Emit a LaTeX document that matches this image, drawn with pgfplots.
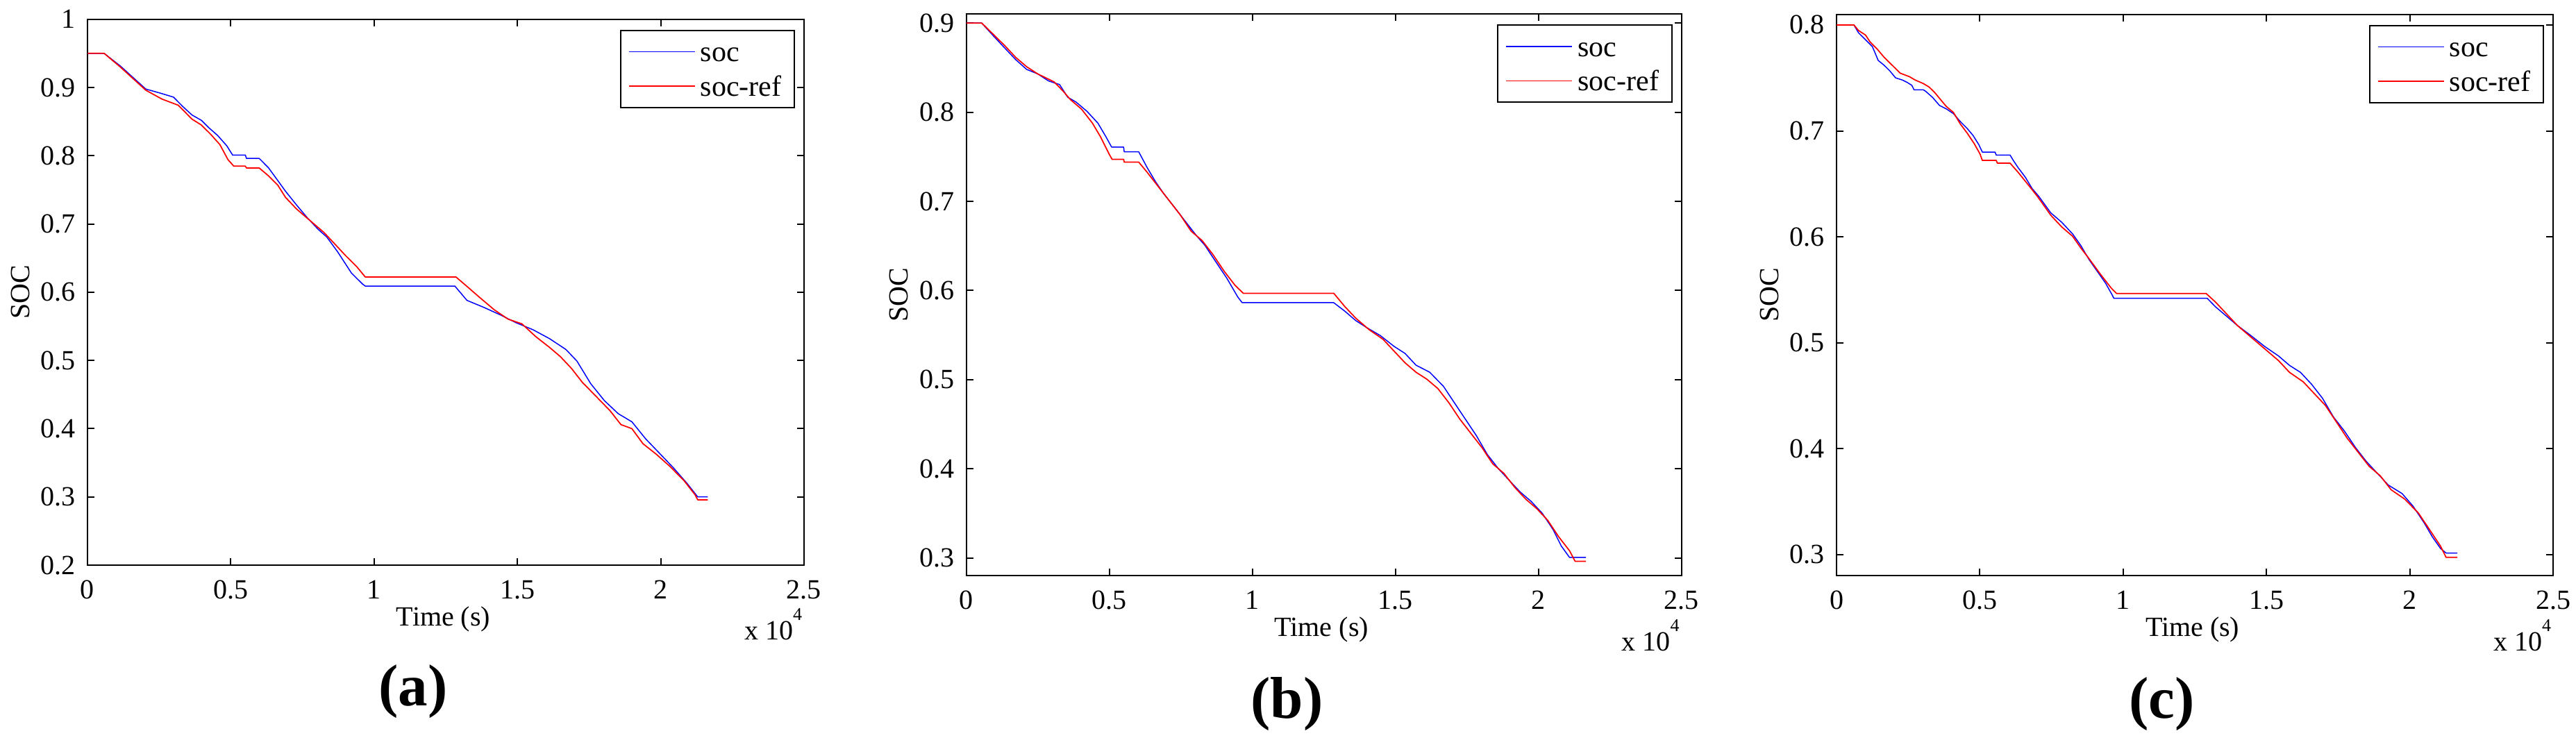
\documentclass[border=0pt]{standalone}
\usepackage{fontspec}
\setmainfont{Liberation Serif}
\usepackage{pgfplots}
\pgfplotsset{compat=1.18}

\pgfplotsset{socstyle/.style={
  scale only axis,
  anchor=north west,
  xmin=0, xmax=25000,
  scaled x ticks=false, scaled y ticks=false,
  xtick={0,5000,10000,15000,20000,25000},
  xticklabels={0,0.5,1,1.5,2,2.5},
  axis line style={line width=0.4pt},
  tick align=inside,
  major tick length=2pt,
  tick style={black, line width=0.4pt},
  ticklabel style={font=\fontsize{8}{9.6}\selectfont},
  /pgf/number format/assume math mode=true,
  xticklabel style={yshift=-0.8pt},
  xlabel={Time (s)}, ylabel={SOC},
  label style={font=\fontsize{8}{9.6}\selectfont},
  xlabel style={at={(axis description cs:0.4967,0)}, anchor=center, yshift=-15.5pt},
  ylabel style={at={(axis description cs:-0.094,0.5)}, anchor=center},
  legend cell align=left,
  legend image code/.code={\draw[##1] (0pt,0pt) -- (19pt,0pt);},
  legend style={at={(1,1)}, anchor=north east, xshift=-2.6pt, yshift=-3pt,
    draw=black, line width=0.4pt, fill=white,
    font=\fontsize{8.4}{9}\selectfont,
    inner xsep=2.2pt, inner ysep=1.7pt, row sep=1pt,
    nodes={inner sep=1.5pt, text height=5.8pt, text depth=0.1pt}},
  every axis plot/.append style={line join=round},
}}

\begin{document}
\begin{tikzpicture}
\path[use as bounding box] (0pt,0pt) rectangle (742pt,-212.4pt);

% ---------------- (a) ----------------
\begin{axis}[socstyle, name=A, at={(25.2pt,-5.54pt)},
  width=206.4pt, height=157.26pt,
  ymin=0.2, ymax=1,
  ytick={0.2,0.3,0.4,0.5,0.6,0.7,0.8,0.9,1},
  yticklabels={0.2,0.3,0.4,0.5,0.6,0.7,0.8,0.9,1}]
\addplot[blue, line width=0.3pt] coordinates {
(0,0.950) (581,0.950) (1146,0.9315) (1590,0.9146) (2035,0.8977) (2599,0.891)
(3004,0.8858) (3326,0.872) (3649,0.8596) (3973,0.8519) (4215,0.8417) (4538,0.8298)
(4861,0.8145) (5063,0.801) (5507,0.801) (5548,0.796) (5992,0.796) (6315,0.7823)
(6638,0.7637) (6908,0.748) (7290,0.728) (7670,0.709) (8050,0.692) (8346,0.681)
(8730,0.659) (9210,0.628) (9594,0.612) (9690,0.609) (12817,0.609) (13239,0.588)
(13814,0.578) (14390,0.567) (14966,0.555) (15542,0.545) (16117,0.532) (16693,0.516)
(17077,0.499) (17556,0.466) (18036,0.441) (18516,0.422) (18995,0.41) (19475,0.385)
(19955,0.364) (20434,0.343) (20914,0.32) (21290,0.300) (21640,0.300)
};
\addlegendentry{soc}
\addplot[red, line width=0.35pt] coordinates {
(0,0.950) (581,0.950) (1146,0.9300) (1590,0.9130) (2035,0.8960) (2599,0.883)
(3166,0.874) (3649,0.8535) (3973,0.845) (4296,0.8315) (4619,0.8163) (4902,0.7942)
(5104,0.7847) (5507,0.7847) (5548,0.782) (5992,0.782) (6315,0.7705) (6638,0.7569)
(6908,0.739) (7292,0.722) (7771,0.7047) (8251,0.6875) (8635,0.6703) (9018,0.653)
(9402,0.637) (9690,0.6223) (12855,0.6223) (13239,0.6085) (13718,0.591) (14198,0.574)
(14678,0.5604) (15158,0.5536) (15637,0.535) (16117,0.5192) (16501,0.5055) (16885,0.4883)
(17269,0.4677) (17749,0.4471) (18228,0.4265) (18612,0.4059) (18995,0.400) (19379,0.378)
(19859,0.362) (20338,0.344) (20818,0.3235) (21201,0.3029) (21290,0.2957) (21640,0.2957)
};
\addlegendentry{soc-ref}
\end{axis}

% ---------------- (b) ----------------
\begin{axis}[socstyle, name=B, at={(278.34pt,-4.06pt)},
  width=206pt, height=161.8pt,
  ymin=0.28, ymax=0.91,
  ytick={0.3,0.4,0.5,0.6,0.7,0.8,0.9},
  yticklabels={0.3,0.4,0.5,0.6,0.7,0.8,0.9}]
\addplot[blue, line width=0.3pt] coordinates {
(0,0.9) (537,0.9) (958,0.8852) (1342,0.872) (1725,0.859) (2109,0.848) (2492,0.843)
(2876,0.835) (3259,0.831) (3547,0.8167) (3834,0.8114) (4217,0.801) (4600,0.7877)
(4888,0.772) (5080,0.7608) (5500,0.7608) (5520,0.7555) (6027,0.7555) (6326,0.7376)
(6614,0.722) (6901,0.7086) (7285,0.693) (7668,0.677) (8051,0.6612) (8339,0.6507)
(8722,0.6322) (9106,0.6138) (9489,0.5927) (9643,0.5863) (12844,0.5863) (13227,0.5769)
(13611,0.5663) (13994,0.5584) (14474,0.5494) (14953,0.5373) (15336,0.5294) (15720,0.5162)
(16199,0.5083) (16679,0.4925) (17062,0.474) (17446,0.4556) (17829,0.4372) (18213,0.416)
(18596,0.4003) (18979,0.387) (19363,0.3739) (19746,0.3634) (20130,0.3502) (20513,0.3317)
(20800,0.3133) (21088,0.3005) (21663,0.3005)
};
\addlegendentry{soc}
\addplot[red, line width=0.35pt] coordinates {
(0,0.9) (537,0.9) (958,0.8868) (1342,0.8747) (1725,0.8615) (2109,0.851) (2492,0.843)
(3067,0.834) (3355,0.8246) (3642,0.814) (4026,0.8035) (4409,0.7877) (4697,0.772)
(4984,0.7535) (5096,0.7471) (5500,0.7471) (5520,0.744) (6027,0.744) (6326,0.7324)
(6709,0.7166) (7093,0.7007) (7476,0.6849) (7860,0.6665) (8243,0.656) (8626,0.6401)
(9010,0.6217) (9393,0.6058) (9681,0.5969) (12844,0.5969) (13227,0.5821) (13611,0.569)
(14090,0.5558) (14570,0.5452) (14953,0.532) (15336,0.5189) (15720,0.5083) (16103,0.5004)
(16487,0.4899) (16870,0.474) (17254,0.4556) (17637,0.4398) (18021,0.424) (18404,0.4055)
(18788,0.395) (19171,0.3792) (19555,0.366) (19938,0.3554) (20322,0.3423) (20705,0.3238)
(21088,0.308) (21280,0.2963) (21663,0.2963)
};
\addlegendentry{soc-ref}
\end{axis}

% ---------------- (c) ----------------
\begin{axis}[socstyle, name=C, at={(529pt,-4.14pt)},
  width=206.4pt, height=161.72pt,
  ymin=0.28, ymax=0.81,
  ytick={0.3,0.4,0.5,0.6,0.7,0.8},
  yticklabels={0.3,0.4,0.5,0.6,0.7,0.8}]
\addplot[blue, line width=0.3pt] coordinates {
(0,0.8) (606,0.8) (767,0.7926) (1050,0.785) (1252,0.7795) (1454,0.7665) (1655,0.7621)
(1857,0.7567) (2059,0.7501) (2301,0.748) (2463,0.7458) (2624,0.7431) (2705,0.7388)
(3028,0.7388) (3109,0.7374) (3351,0.7316) (3593,0.724) (3835,0.7207) (4077,0.7163)
(4319,0.7088) (4561,0.7022) (4763,0.6957) (4966,0.6869) (5087,0.68) (5531,0.68)
(5572,0.6771) (6056,0.6771) (6177,0.6717) (6338,0.6652) (6581,0.6565) (6823,0.6456)
(7065,0.6379) (7471,0.6227) (7854,0.6138) (8237,0.6027) (8525,0.5917) (8812,0.5784)
(9100,0.5673) (9387,0.5562) (9617,0.5451) (9674,0.542) (12931,0.542) (13218,0.534)
(13601,0.5252) (13985,0.5163) (14464,0.5066) (14942,0.4964) (15421,0.4875) (15805,0.4786)
(16188,0.472) (16571,0.4609) (16954,0.4476) (17337,0.4299) (17720,0.4166) (18104,0.4011)
(18487,0.3878) (18870,0.3767) (19253,0.3656) (19732,0.3576) (20115,0.3457) (20499,0.3301)
(20786,0.3168) (21073,0.3058) (21265,0.3015) (21660,0.3015)
};
\addlegendentry{soc}
\addplot[red, line width=0.35pt] coordinates {
(0,0.8) (606,0.8) (767,0.7948) (1010,0.7905) (1171,0.784) (1413,0.7774) (1655,0.7697)
(1897,0.7632) (2099,0.7578) (2221,0.7545) (2543,0.7512) (2745,0.748) (3028,0.7447)
(3230,0.7414) (3432,0.736) (3634,0.7294) (3835,0.7229) (4077,0.7175) (4319,0.7065)
(4561,0.6978) (4803,0.688) (5006,0.6782) (5087,0.6721) (5572,0.6721) (5612,0.6695)
(6056,0.6695) (6338,0.6608) (6661,0.65) (6984,0.639) (7145,0.633) (7471,0.6205)
(7854,0.6094) (8237,0.6005) (8525,0.5894) (8812,0.5793) (9195,0.5651) (9578,0.5518)
(9770,0.5465) (12893,0.5465) (13218,0.5385) (13601,0.5274) (13985,0.5163) (14464,0.5052)
(14942,0.4942) (15421,0.4831) (15805,0.472) (16283,0.4631) (16667,0.452) (17050,0.441)
(17433,0.4255) (17816,0.4099) (18200,0.3966) (18583,0.3833) (18966,0.3745) (19349,0.3612)
(19828,0.3523) (20307,0.339) (20690,0.3235) (21073,0.308) (21265,0.2974) (21660,0.2974)
};
\addlegendentry{soc-ref}
\end{axis}

% scale labels
\foreach \ax in {A,B,C}{
  \node[anchor=base east, inner sep=0pt, font=\fontsize{8}{9.6}\selectfont]
    at ([xshift=-0.4pt, yshift=-21.6pt]\ax.south east)
    {x 10\raisebox{5.6pt}{\fontsize{5.2}{6}\selectfont 4}};
}

% panel letters
\node[font=\fontsize{17}{20}\selectfont\bfseries] at (119pt,-199.2pt) {(a)};
\node[font=\fontsize{17}{20}\selectfont\bfseries] at (370.7pt,-202.8pt) {(b)};
\node[font=\fontsize{17}{20}\selectfont\bfseries] at (622.7pt,-202.8pt) {(c)};
\end{tikzpicture}
\end{document}
